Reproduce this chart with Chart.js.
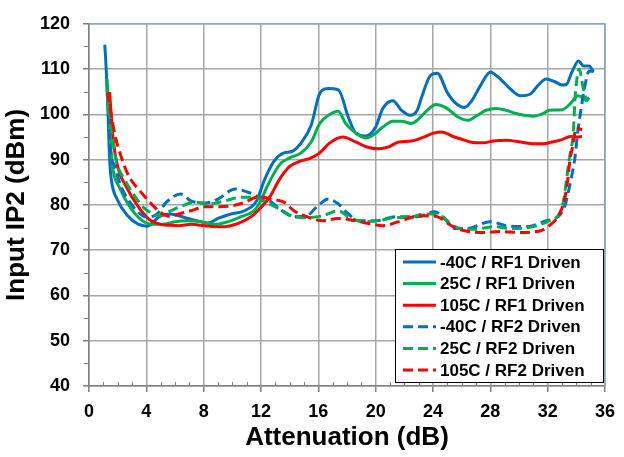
<!DOCTYPE html>
<html>
<head>
<meta charset="utf-8">
<script src="https://cdn.jsdelivr.net/npm/chart.js@4.4.1/dist/chart.umd.min.js"></script>
<style>
  html, body { margin: 0; padding: 0; background: #fff; }
  #wrap { position: relative; width: 624px; height: 457px; }
</style>
</head>
<body>
<div id="wrap"><canvas id="chart"></canvas></div>
<script>
// Attenuation (dB) and Input IP2 (dBm)
const rf1Cold_x = [1.1, 1.2, 1.33, 1.44, 1.56, 1.97, 2.7, 3.4, 4.05, 4.9, 5.6, 6.25, 6.9, 7.8, 8.3, 9.0, 9.9, 10.85, 11.7, 12.2, 12.9, 13.6, 14.15, 14.8, 15.5, 16.1, 16.7, 17.4, 18.1, 18.6, 19.3, 20.0, 20.5, 21.2, 21.8, 22.4, 22.9, 23.2, 23.8, 24.3, 25.0, 25.6, 26.2, 26.7, 27.3, 28.0, 28.7, 29.4, 30.1, 30.8, 31.3, 31.9, 32.5, 33.0, 33.3, 33.7, 34.15, 34.5, 34.9, 35.2]
const rf1Cold_y = [115.4, 110, 100, 90, 85.5, 81.2, 77.6, 75.8, 75.3, 77.4, 78, 77.6, 77, 76.3, 76, 77, 78, 78.7, 80.9, 85.2, 89.6, 91.5, 91.8, 93.7, 97.6, 104.6, 105.7, 105.4, 99.3, 95.9, 95.2, 97.2, 101.3, 103, 100.9, 99.8, 100.9, 103.7, 108.5, 109.1, 104.8, 102.4, 101.5, 103, 106.3, 109.3, 107.8, 105.6, 104.1, 104.5, 106.3, 107.8, 107.2, 106.5, 106.6, 109.4, 111.8, 110.7, 110.7, 109.4]

const rf1Room_x = [1.24, 1.4, 1.65, 2.1, 2.8, 3.6, 4.4, 5.1, 6.0, 6.9, 7.8, 8.8, 9.7, 10.6, 11.5, 12.0, 12.4, 13.3, 14.0, 14.8, 15.5, 16.1, 16.7, 17.4, 17.9, 18.6, 19.3, 19.8, 20.5, 21.2, 21.8, 22.5, 22.9, 23.6, 24.2, 24.9, 25.8, 26.4, 27.1, 27.7, 28.4, 29.1, 29.8, 31.0, 31.7, 32.1, 33.0, 33.6, 34.1, 34.4, 34.7, 34.85]
const rf1Room_y = [107.8, 98, 88.4, 84, 79.8, 76.8, 75.7, 75.7, 76.3, 76.5, 76.3, 75.7, 76.3, 77.4, 78.7, 81, 83.9, 88.9, 90.4, 91.5, 93.9, 98, 99.8, 100.7, 98, 95.9, 94.8, 95.4, 97.2, 98.5, 98.5, 98, 98.7, 100.9, 102.2, 101.5, 99.3, 98.7, 99.8, 100.9, 101.3, 100.9, 100.2, 99.6, 100.2, 100.9, 101, 102.4, 104.1, 103.8, 103, 103.5]

const rf1Hot_x = [1.44, 1.65, 2.0, 2.6, 3.4, 4.2, 5.0, 5.6, 6.25, 7.1, 8.1, 8.8, 9.5, 10.4, 11.3, 11.7, 12.6, 13.3, 14.0, 14.7, 15.5, 16.1, 16.8, 17.7, 18.6, 19.4, 20.2, 20.9, 21.6, 22.5, 23.2, 24.1, 24.6, 25.5, 25.9, 26.6, 27.5, 28.2, 29.1, 30.1, 31.0, 31.7, 32.3, 32.9, 33.6, 34.0, 34.4]
const rf1Hot_y = [104.9, 95.6, 88.4, 84, 79.8, 76.8, 75.7, 75.5, 75.4, 75.7, 75.4, 75.2, 75.2, 75.9, 77.4, 78.5, 81.7, 85.7, 88.5, 89.6, 90.4, 91.5, 93.7, 95, 93.9, 92.8, 92.4, 92.8, 93.9, 94.1, 94.8, 95.9, 96.1, 95, 94.6, 93.9, 93.7, 94.1, 94.3, 93.9, 93.5, 93.5, 93.9, 94.3, 95.1, 95, 95.1]

const rf2Cold_x = [1.35, 1.5, 1.8, 2.25, 2.9, 3.6, 4.05, 4.75, 5.4, 6.4, 7.1, 8.1, 9.0, 10.2, 11.1, 12.0, 12.6, 13.3, 14.3, 15.2, 15.9, 16.7, 17.4, 18.1, 18.8, 20.0, 21.4, 22.9, 24.1, 24.8, 25.5, 26.4, 28.0, 29.1, 30.5, 31.9, 32.8, 33.2, 33.6, 33.9, 34.1, 34.4, 34.6, 34.9, 35.2]
const rf2Cold_y = [100, 92, 88.4, 84, 80.4, 77.9, 77.3, 78, 80.6, 82.4, 80.9, 80.4, 81.3, 83.5, 82.8, 81.5, 80.9, 79.1, 77.4, 77.6, 79.6, 81.3, 80.2, 78, 76.5, 76.5, 77.4, 77.4, 78.5, 77, 74.8, 74.8, 76.3, 75.4, 75.2, 76.5, 77.6, 79.8, 85.2, 90.4, 96.1, 102.6, 106.3, 109.6, 109.4]

const rf2Room_x = [1.24, 1.56, 1.9, 2.5, 3.2, 3.85, 4.5, 4.9, 5.7, 6.5, 7.4, 8.3, 9.5, 10.6, 11.5, 12.4, 13.3, 14.3, 15.2, 16.3, 17.4, 18.1, 19.1, 20.2, 21.4, 22.3, 23.4, 24.2, 25.0, 25.5, 26.9, 28.2, 29.4, 31.0, 32.1, 32.8, 33.1, 33.3, 33.5, 33.8, 33.9, 34.0, 34.2, 34.5, 34.75, 34.9]
const rf2Room_y = [107.8, 97, 89.8, 85.5, 81.9, 79.3, 78, 77.6, 78.7, 79.8, 80.6, 80.2, 80.9, 81.7, 81.7, 80.5, 79.1, 77.4, 77.2, 77.6, 78.7, 77.4, 76.3, 76.5, 77.2, 77.2, 78, 78, 76.5, 75.2, 74.6, 75.2, 74.8, 75.2, 76.5, 78, 80.8, 85.2, 90, 96.6, 103, 106.8, 110, 105.5, 103.3, 103.7]

const rf2Hot_x = [1.3, 1.8, 2.25, 2.8, 3.5, 4.3, 5.0, 5.6, 6.25, 7.1, 8.1, 9.0, 10.0, 10.9, 11.7, 12.2, 12.6, 13.6, 14.3, 15.2, 16.3, 17.4, 18.6, 19.5, 20.5, 21.6, 22.7, 23.6, 24.3, 25.3, 26.2, 27.5, 28.7, 30.1, 31.5, 32.3, 32.8, 33.2, 33.4, 33.55, 33.75, 34.0, 34.4]
const rf2Hot_y = [104.8, 95.6, 90.6, 86.2, 83.3, 80.4, 78.3, 77.5, 78, 78.7, 79.6, 79.6, 79.8, 80.6, 81.7, 81.7, 81.3, 80.6, 78.7, 77.4, 76.5, 77, 76.5, 75.9, 75.4, 76.3, 77.4, 77.6, 77.4, 75.4, 74.3, 73.9, 74.1, 73.9, 74.3, 75.9, 77.8, 81.5, 85.5, 89.8, 93, 97, 96.6]

const seriesNames = ['-40C / RF1 Driven', '25C / RF1 Driven', '105C / RF1 Driven',
                     '-40C / RF2 Driven', '25C / RF2 Driven', '105C / RF2 Driven']
const seriesX = [rf1Cold_x, rf1Room_x, rf1Hot_x, rf2Cold_x, rf2Room_x, rf2Hot_x]
const seriesY = [rf1Cold_y, rf1Room_y, rf1Hot_y, rf2Cold_y, rf2Room_y, rf2Hot_y]

const xTickStep = 4
const yTickStep = 10

const FONT = '"Liberation Sans", Arial, sans-serif'
const colors = ['#0070C0', '#00B050', '#FF0000']

const datasets = seriesNames.map((name, i) => ({
    label: name,
    data: seriesX[i].map((x, j) => ({x: x, y: seriesY[i][j]})),
    borderColor: colors[i % 3],
    backgroundColor: colors[i % 3],
    borderWidth: 3,
    borderDash: i >= 3 ? [10, 5] : [],
    showLine: true,
    pointRadius: 0,
    cubicInterpolationMode: 'monotone',
    // later series on top, like the original
    order: seriesNames.length - i
}))

// legend box, minor ticks and the light frame on top/right
const extrasPlugin = {
    id: 'extras',
    afterDraw(chart) {
        const ctx = chart.ctx
        const area = chart.chartArea
        const xs = chart.scales.x
        const ys = chart.scales.y
        ctx.save()

        // frame top and right
        ctx.strokeStyle = '#86a5cc'
        ctx.lineWidth = 1.5
        ctx.beginPath()
        ctx.moveTo(area.left, area.top)
        ctx.lineTo(area.right, area.top)
        ctx.lineTo(area.right, area.bottom)
        ctx.stroke()

        // minor ticks
        ctx.strokeStyle = '#808080'
        ctx.lineWidth = 1
        ctx.beginPath()
        for (let v = xs.min + 1; v < xs.max; v++) {
            if (v % xTickStep === 0) continue
            const px = Math.round(xs.getPixelForValue(v)) + 0.5
            ctx.moveTo(px, area.bottom)
            ctx.lineTo(px, area.bottom - 4)
        }
        for (let v = ys.min + 5; v < ys.max; v += 10) {
            const py = Math.round(ys.getPixelForValue(v)) + 0.5
            ctx.moveTo(area.left, py)
            ctx.lineTo(area.left - 5, py)
        }
        ctx.stroke()

        // legend
        const boxL = area.right - 210
        const boxT = area.bottom - 137
        const boxR = area.right - 1
        const boxB = area.bottom - 3
        ctx.fillStyle = '#ffffff'
        ctx.fillRect(boxL, boxT, boxR - boxL, boxB - boxT)
        ctx.strokeStyle = '#000000'
        ctx.lineWidth = 1
        ctx.strokeRect(boxL + 0.5, boxT + 0.5, boxR - boxL - 1, boxB - boxT - 1)

        ctx.font = 'bold 17px ' + FONT
        ctx.textBaseline = 'middle'
        ctx.textAlign = 'left'
        chart.data.datasets.forEach((ds, i) => {
            const y = boxT + 13 + i * 21.6
            ctx.strokeStyle = ds.borderColor
            ctx.lineWidth = 3
            ctx.setLineDash(ds.borderDash)
            ctx.beginPath()
            ctx.moveTo(boxL + 8, y)
            ctx.lineTo(boxL + 41, y)
            ctx.stroke()
            ctx.setLineDash([])
            ctx.fillStyle = '#000000'
            ctx.fillText(ds.label, boxL + 45, y + 1)
        })
        ctx.restore()
    }
}

new Chart(document.getElementById('chart'), {
    type: 'scatter',
    data: {datasets},
    options: {
        responsive: true,
        maintainAspectRatio: false,
        animation: false,
        layout: {
            padding: {left: 0, top: 16, right: 11, bottom: 0}
        },
        scales: {
            x: {
                type: 'linear',
                min: 0,
                max: 36,
                afterFit: (scale) => { scale.height = 71 },
                ticks: {
                    stepSize: xTickStep,
                    color: '#000',
                    padding: 9,
                    font: {family: FONT, size: 18, weight: 'bold'}
                },
                grid: {
                    color: '#a6a6a6',
                    lineWidth: 1.5,
                    tickLength: 6,
                    tickColor: '#808080'
                },
                border: {color: '#808080', width: 1.5},
                title: {
                    display: true,
                    text: 'Attenuation (dB)',
                    color: '#000',
                    padding: {top: 0, bottom: 4},
                    font: {family: FONT, size: 26, weight: 'bold', lineHeight: 1.2}
                }
            },
            y: {
                min: 40,
                max: 120,
                afterFit: (scale) => { scale.width = 89 },
                ticks: {
                    stepSize: yTickStep,
                    color: '#000',
                    padding: 13,
                    font: {family: FONT, size: 18, weight: 'bold'}
                },
                grid: {
                    color: '#a6a6a6',
                    lineWidth: 1.5,
                    tickLength: 6,
                    tickColor: '#808080'
                },
                border: {color: '#808080', width: 1.5},
                title: {
                    display: true,
                    text: 'Input IP2 (dBm)',
                    color: '#000',
                    padding: {top: 1, bottom: 0},
                    font: {family: FONT, size: 26, weight: 'bold', lineHeight: 1.2}
                }
            }
        },
        plugins: {
            legend: {display: false},
            tooltip: {enabled: false}
        }
    },
    plugins: [extrasPlugin]
})
</script>
</body>
</html>
